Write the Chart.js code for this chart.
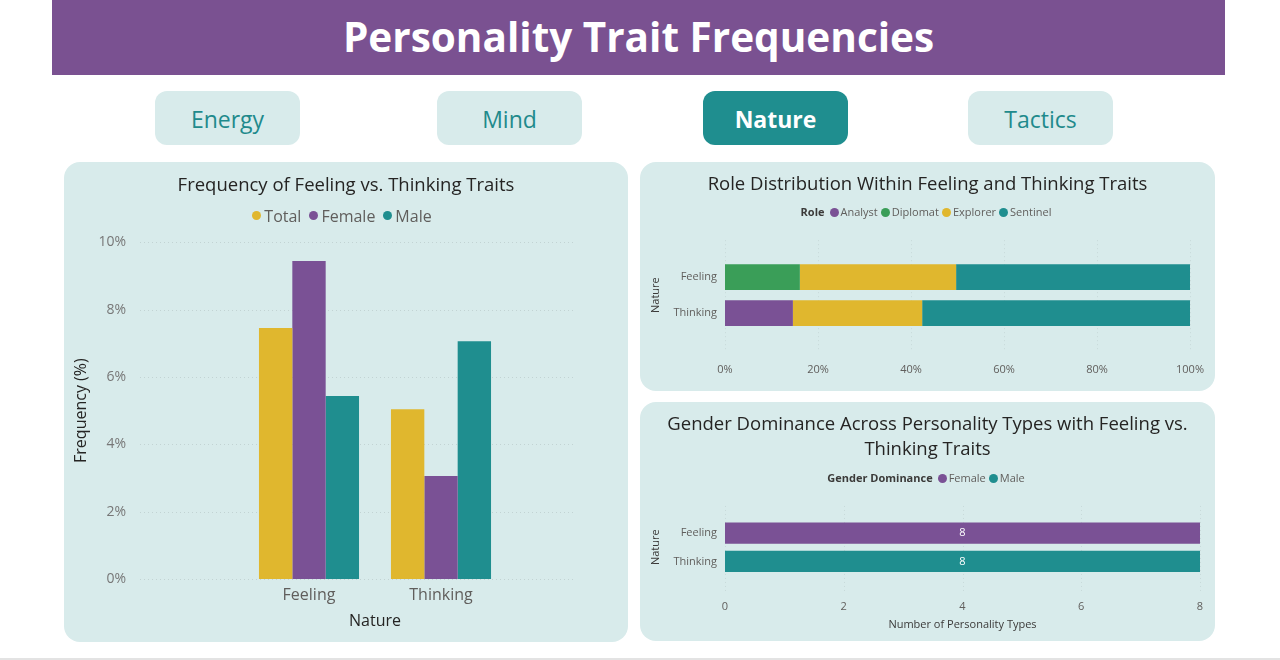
<!DOCTYPE html>
<html><head><meta charset="utf-8">
<script src="https://cdn.jsdelivr.net/npm/chart.js@4.4.0/dist/chart.umd.min.js"></script>
<style>
html,body{margin:0;padding:0;background:#fff;width:1280px;height:660px;overflow:hidden;font-family:'Open Sans',sans-serif;}
#header{position:absolute;left:52px;top:0;width:1173px;height:75px;background:#7a5191;color:#fff;font-weight:700;font-size:40.5px;text-align:center;line-height:74px;}
.btn{position:absolute;top:91px;width:145px;height:54px;border-radius:12px;background:#d8ebeb;color:#1f8a8c;font-size:23px;text-align:center;line-height:57px;}
.btn.active{background:#1f8e8f;color:#fff;font-weight:700;}
.panel{position:absolute;background:#d8ebeb;border-radius:16px;}
.wrap{position:absolute;left:0;top:0;}
.legend{position:absolute;left:0;width:100%;text-align:center;font-size:11px;color:#605e5c;line-height:14px;white-space:nowrap;}
.legend b{color:#3b3a39;margin-right:5px;}
.legend .it{margin-right:3px;}
.legend .dot{display:inline-block;width:9px;height:9px;border-radius:50%;vertical-align:-1px;margin-right:2px;}
.legend.big{font-size:16px;line-height:20px;}
.legend.big .it{margin-right:8px;}
.legend.big .dot{width:9px;height:9px;margin-right:3px;vertical-align:2px;}
#bottomline{position:absolute;left:0;top:658px;width:1280px;height:2px;background:#e3e3e3;}
</style></head>
<body>
<div id="header">Personality Trait Frequencies</div>
<div class="btn" style="left:155px">Energy</div>
<div class="btn" style="left:437px">Mind</div>
<div class="btn active" style="left:703px">Nature</div>
<div class="btn" style="left:968px">Tactics</div>

<div class="panel" style="left:64px;top:162px;width:564px;height:480px">
  <div class="wrap" style="width:564px;height:480px"><canvas id="c1"></canvas></div>
  <div class="legend big" id="lg1" style="top:44px"></div>
</div>
<div class="panel" style="left:640px;top:162px;width:575px;height:229px">
  <div class="wrap" style="width:575px;height:229px"><canvas id="c2"></canvas></div>
  <div class="legend" id="lg2" style="top:43px"></div>
</div>
<div class="panel" style="left:640px;top:402px;width:575px;height:239px">
  <div class="wrap" style="width:575px;height:239px"><canvas id="c3"></canvas></div>
  <div class="legend" id="lg3" style="top:69px"></div>
</div>
<div id="bottomline"></div>

<script>
// ---- data ----
const natureCats = ['Feeling', 'Thinking'];
const freqSeries = ['Total', 'Female', 'Male'];
const freqTotal = [7.45, 5.04];
const freqFemale = [9.44, 3.06];
const freqMale = [5.43, 7.06];

const roleNames = ['Analyst', 'Diplomat', 'Explorer', 'Sentinel'];
const roleAnalyst = [0, 14.6];
const roleDiplomat = [16.1, 0];
const roleExplorer = [33.6, 27.8];
const roleSentinel = [50.3, 57.6];

const genderNames = ['Female', 'Male'];
const genderFemale = [8, null];
const genderMale = [null, 8];

// ---- style ----
const F = "'Open Sans', sans-serif";
const YEL = '#e0b72e', PUR = '#7a5195', TEAL = '#1f8e8f', GRN = '#3a9e58';
Chart.defaults.font.family = F;
Chart.defaults.animation = false;

const dotGrid = {
  id: 'dotGrid',
  beforeDatasetsDraw(chart, args, o) {
    const sc = chart.scales[o.axis]; const a = chart.chartArea; const ctx = chart.ctx;
    ctx.save(); ctx.strokeStyle = o.color; ctx.lineWidth = 1; ctx.setLineDash([1, 3]);
    sc.ticks.forEach((t, i) => {
      const p = Math.round(sc.getPixelForTick(i)) + 0.5;
      ctx.beginPath();
      if (o.axis.startsWith('y')) { ctx.moveTo(a.left - o.e1, p); ctx.lineTo(a.right + o.e2, p); }
      else { ctx.moveTo(p, a.top - o.e1); ctx.lineTo(p, a.bottom + o.e2); }
      ctx.stroke();
    });
    ctx.restore();
  }
};

const barLabels = {
  id: 'barLabels',
  afterDatasetsDraw(chart) {
    const ctx = chart.ctx; ctx.save();
    ctx.fillStyle = '#ffffff'; ctx.font = "11px " + F; ctx.textAlign = 'center'; ctx.textBaseline = 'middle';
    chart.data.datasets.forEach((ds, di) => {
      chart.getDatasetMeta(di).data.forEach((el, i) => {
        const v = ds.data[i]; if (v == null || v === 0) return;
        ctx.fillText(String(v), (el.x + el.base) / 2, el.y);
      });
    });
    ctx.restore();
  }
};

// fixed-size axes (no automatic extra padding)
const fixW = w => s => { s.width = w; s.paddingTop = 0; s.paddingBottom = 0; };
const fixH = h => s => { s.height = h; s.paddingLeft = 0; s.paddingRight = 0; };
function padAxis(w) {
  return { position: 'right', display: true, grid: { display: false, drawTicks: false }, border: { display: false },
    ticks: { display: false }, afterFit: fixW(w) };
}

// ---- chart 1 ----
const freqColors = [YEL, PUR, TEAL];
const freqData = [freqTotal, freqFemale, freqMale];
new Chart(document.getElementById('c1'), {
  type: 'bar',
  data: { labels: natureCats, datasets: freqSeries.map((n, i) => ({ label: n, data: freqData[i], backgroundColor: freqColors[i] })) },
  options: {
    responsive: true, maintainAspectRatio: false,
    layout: { padding: { left: 0, right: 0, top: 0, bottom: 11 } },
    datasets: { bar: { categoryPercentage: 0.758, barPercentage: 1 } },
    plugins: {
      title: { display: true, text: 'Frequency of Feeling vs. Thinking Traits', color: '#252423',
        font: { size: 18.5, weight: 'normal' }, padding: { top: 13, bottom: 45 } },
      legend: { display: false },
      tooltip: { enabled: false },
      dotGrid: { axis: 'y', color: 'rgba(0,0,0,0.10)', e1: 103, e2: 68 }
    },
    scales: {
      x: { grid: { display: false, drawTicks: false }, border: { display: false },
        ticks: { font: { size: 16 }, color: '#605e5c', padding: 7 },
        title: { display: true, text: 'Nature', color: '#252423', font: { size: 16 }, padding: { top: 0, bottom: 0 } },
        afterFit: fixH(52) },
      y: { min: 0, max: 10, grid: { display: false, drawTicks: false }, border: { display: false },
        ticks: { stepSize: 2, callback: v => v + '%', font: { size: 14 }, color: '#777777', padding: 117 },
        title: { display: true, text: 'Frequency (%)', color: '#252423', font: { size: 16 }, padding: { top: 8, bottom: 0 } },
        afterFit: fixW(179) },
      yPad: padAxis(121)
    }
  },
  plugins: [dotGrid]
});

// ---- chart 2 ----
const roleColors = [PUR, GRN, YEL, TEAL];
const roleData = [roleAnalyst, roleDiplomat, roleExplorer, roleSentinel];
new Chart(document.getElementById('c2'), {
  type: 'bar',
  data: { labels: natureCats, datasets: roleNames.map((n, i) => ({ label: n, data: roleData[i], backgroundColor: roleColors[i] })) },
  options: {
    indexAxis: 'y', responsive: true, maintainAspectRatio: false,
    layout: { padding: { left: 0, right: 0, top: 0, bottom: 14 } },
    datasets: { bar: { categoryPercentage: 0.72, barPercentage: 1 } },
    plugins: {
      title: { display: true, text: 'Role Distribution Within Feeling and Thinking Traits', color: '#252423',
        font: { size: 18.5, weight: 'normal' }, padding: { top: 12, bottom: 63 } },
      legend: { display: false }, tooltip: { enabled: false },
      dotGrid: { axis: 'x', color: 'rgba(0,0,0,0.08)', e1: 19, e2: 21 }
    },
    scales: {
      x: { stacked: true, min: 0, max: 100, grid: { display: false, drawTicks: false }, border: { display: false },
        ticks: { stepSize: 20, callback: v => v + '%', font: { size: 11 }, color: '#605e5c', padding: 32 },
        afterFit: fixH(46) },
      y: { stacked: true, grid: { display: false, drawTicks: false }, border: { display: false },
        ticks: { font: { size: 11 }, color: '#605e5c', padding: 8 },
        title: { display: true, text: 'Nature', color: '#3b3a39', font: { size: 11 }, padding: { top: 9, bottom: 0 } },
        afterFit: fixW(85) },
      yPad: padAxis(25)
    }
  },
  plugins: [dotGrid]
});

// ---- chart 3 ----
const genderColors = [PUR, TEAL];
const genderData = [genderFemale, genderMale];
new Chart(document.getElementById('c3'), {
  type: 'bar',
  data: { labels: natureCats, datasets: genderNames.map((n, i) => ({ label: n, data: genderData[i], backgroundColor: genderColors[i] })) },
  options: {
    indexAxis: 'y', responsive: true, maintainAspectRatio: false,
    layout: { padding: { left: 0, right: 0, top: 0, bottom: 10 } },
    datasets: { bar: { categoryPercentage: 0.75, barPercentage: 1 } },
    plugins: {
      title: { display: true, text: ['Gender Dominance Across Personality Types with Feeling vs.', 'Thinking Traits'], color: '#252423',
        font: { size: 18.5, weight: 'normal', lineHeight: 1.35 }, padding: { top: 10, bottom: 57 } },
      legend: { display: false }, tooltip: { enabled: false },
      dotGrid: { axis: 'x', color: 'rgba(0,0,0,0.08)', e1: 13, e2: 16 }
    },
    scales: {
      x: { stacked: true, min: 0, max: 8, grid: { display: false, drawTicks: false }, border: { display: false },
        ticks: { stepSize: 2, font: { size: 11 }, color: '#605e5c', padding: 25 },
        title: { display: true, text: 'Number of Personality Types', color: '#3b3a39', font: { size: 11 }, padding: { top: 5, bottom: 0 } },
        afterFit: fixH(55.5) },
      y: { stacked: true, grid: { display: false, drawTicks: false }, border: { display: false },
        ticks: { font: { size: 11 }, color: '#605e5c', padding: 8 },
        title: { display: true, text: 'Nature', color: '#3b3a39', font: { size: 11 }, padding: { top: 9, bottom: 0 } },
        afterFit: fixW(85) },
      yPad: padAxis(15)
    }
  },
  plugins: [dotGrid, barLabels]
});

// ---- HTML legends ----
function buildLegend(id, title, names, colors) {
  const el = document.getElementById(id);
  let h = title ? '<b>' + title + '</b>' : '';
  names.forEach((n, i) => { h += '<span class="it"><span class="dot" style="background:' + colors[i] + '"></span>' + n + '</span>'; });
  el.innerHTML = h;
}
buildLegend('lg1', '', freqSeries, freqColors);
buildLegend('lg2', 'Role', roleNames, roleColors);
buildLegend('lg3', 'Gender Dominance', genderNames, genderColors);
</script>
</body></html>
